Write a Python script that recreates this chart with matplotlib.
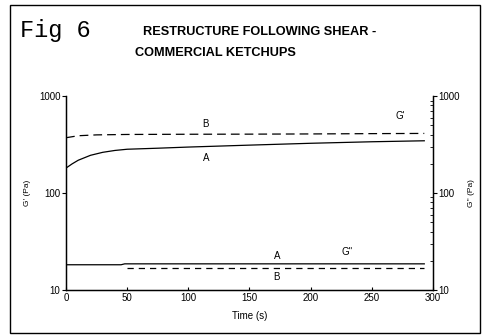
import numpy as np
import matplotlib.pyplot as plt
from matplotlib.patches import Rectangle

# G' (storage modulus) curves
t_gp_a = [0, 5, 10, 20, 30, 40, 50, 75, 100, 150, 200, 250, 293]
gp_a = [181, 200, 218, 245, 263, 275, 283, 290, 298, 312, 326, 338, 346]
t_gp_b = [0, 10, 25, 50, 100, 150, 200, 250, 293]
gp_b = [372, 390, 398, 402, 404, 405, 407, 410, 412]

# G'' (loss modulus) curves
t_gpp_a = [0, 45, 48, 100, 150, 200, 250, 293]
gpp_a = [18.2, 18.2, 18.6, 18.6, 18.6, 18.6, 18.6, 18.6]
t_gpp_b = [50, 100, 150, 200, 250, 293]
gpp_b = [16.9, 16.9, 16.9, 16.9, 16.9, 16.9]

xticks = [0, 50, 100, 150, 200, 250, 300]

plt.rcParams['font.family'] = ['Liberation Sans', 'DejaVu Sans']

fig = plt.figure(figsize=(4.82, 3.36), dpi=100)
fig.patches.append(Rectangle((0.02, 0.01), 0.975, 0.975, transform=fig.transFigure,
                             fill=False, lw=1.0, ec='black'))

ax = fig.add_axes([0.137, 0.137, 0.761, 0.577])
ax.set_yscale('log')
ax.set_xlim(0, 300)
ax.set_ylim(10, 1000)

ax.plot(t_gp_a, gp_a, color='black', lw=0.9)
ax.plot(t_gp_b, gp_b, color='black', lw=0.9, dashes=(7, 4))
ax.plot(t_gpp_a, gpp_a, color='black', lw=0.9)
ax.plot(t_gpp_b, gpp_b, color='black', lw=0.9, dashes=(5, 4))

ax.spines['top'].set_visible(False)
for s in ['left', 'right', 'bottom']:
    ax.spines[s].set_linewidth(1.0)

ax.set_xticks(xticks)
ax.set_xticklabels([str(v) for v in xticks], fontsize=7)
ax.tick_params(axis='x', direction='in', length=2, pad=2)
ax.set_yticks([10, 100, 1000])
ax.set_yticklabels(['10', '100', '1000'], fontsize=7)
ax.yaxis.set_minor_locator(plt.NullLocator())
ax.tick_params(axis='y', direction='out', length=3, pad=1)
ax.set_xlabel('Time (s)', fontsize=7, labelpad=6)
ax.set_ylabel("G' (Pa)", fontsize=6, labelpad=6)

ax2 = ax.twinx()
ax2.set_yscale('log')
ax2.set_ylim(10, 1000)
ax2.spines['top'].set_visible(False)
ax2.set_yticks([10, 100, 1000])
ax2.set_yticklabels(['10', '100', '1000'], fontsize=7)
ax2.tick_params(axis='y', which='major', direction='out', length=3, pad=1)
ax2.tick_params(axis='y', which='minor', direction='in', length=2)
ax2.yaxis.set_minor_formatter(plt.NullFormatter())
ax2.set_ylabel("G'' (Pa)", fontsize=6, labelpad=6, rotation=90)

ax.text(114, 520, 'B', fontsize=7, ha='center', va='center')
ax.text(115, 230, 'A', fontsize=7, ha='center', va='center')
ax.text(273, 620, "G'", fontsize=7, ha='center', va='center')
ax.text(173, 22.5, 'A', fontsize=7, ha='center', va='center')
ax.text(172, 13.6, 'B', fontsize=7, ha='center', va='center')
ax.text(230, 24.5, "G''", fontsize=7, ha='center', va='center')

fig.text(0.042, 0.91, 'Fig 6', fontsize=17, family=['Liberation Mono', 'DejaVu Sans Mono'],
         ha='left', va='center')
fig.text(0.297, 0.905, 'RESTRUCTURE FOLLOWING SHEAR -', fontsize=9.2, weight='bold',
         ha='left', va='center')
fig.text(0.28, 0.843, 'COMMERCIAL KETCHUPS', fontsize=9.2, weight='bold', ha='left', va='center')

fig.savefig('out.png', dpi=100)
